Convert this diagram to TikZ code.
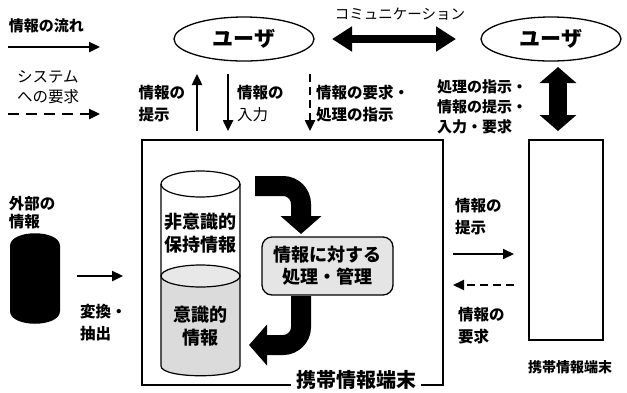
\documentclass[tikz,border=0pt]{standalone}
\usepackage{fontspec}
\newfontfamily\jp{Noto Sans CJK JP}
\usetikzlibrary{arrows.meta,shapes.geometric}
\begin{document}
\begin{tikzpicture}[x=1pt,y=-1pt,
  every node/.style={inner sep=0pt, outer sep=0pt, align=left, font=\jp\bfseries\fontsize{15.5}{22}\selectfont},
  flow/.style={line width=2.4pt, -{Triangle[length=11pt,width=10pt]}},
  req/.style={flow, dash pattern=on 8pt off 5pt},
  user/.style={draw, ellipse, line width=1.3pt, minimum width=140pt, minimum height=44pt, font=\jp\bfseries\fontsize{21}{22}\selectfont},
  bigflow/.style={line width=20pt, rounded corners=18pt, -{Triangle[length=18pt,width=40pt]}},
  dbl/.style={line width=8pt, {Triangle[length=20pt,width=24pt]}-{Triangle[length=20pt,width=24pt]}},
  vdbl/.style={line width=18pt, {Triangle[length=16pt,width=36pt]}-{Triangle[length=16pt,width=36pt]}},
  boxline/.style={draw, line width=2.2pt},
]
\useasboundingbox (0,0) rectangle (627,392);

% legend
\node[anchor=west, font=\jp\bfseries\fontsize{15}{20}\selectfont] (lf) at (9,26) {情報の流れ};
\coordinate (lfa) at (8,47);
\coordinate (lfb) at (100,47);
\draw[flow] (lfa) -- (lfb);
\node[anchor=west, font=\jp\fontsize{15.5}{20}\selectfont] (lr) at (17,87) {システム\\への要求};
\coordinate (lra) at (8,114);
\coordinate (lrb) at (100,114);
\draw[req, dash pattern=on 11pt off 7pt] (lra) -- (lrb);

% users
\node[user] (u1) at (244,39) {ユーザ};
\node[user] (u2) at (551,39) {ユーザ};
\node[font=\jp\fontsize{14.5}{16}\selectfont] (comm) at (400,14) {コミュニケーション};
\draw[dbl, shorten <=18pt, shorten >=25pt] (u1.east) -- (u2.west);

% arrows between user and terminal
\coordinate (a1t) at (197,74);
\coordinate (a1b) at (197,131);
\coordinate (a2t) at (228,74);
\coordinate (a2b) at (228,131);
\coordinate (a3t) at (310,74);
\coordinate (a3b) at (310,131);
\draw[flow] (a1b) -- (a1t);
\draw[flow] (a2t) -- (a2b);
\draw[req] (a3t) -- (a3b);
\node[anchor=east] (l1) at (185,104) {情報の\\提示};
\node[anchor=west, font=\jp\fontsize{15.5}{22}\selectfont] (l2) at (237,104) {\textbf{情報の}\\入力};
\node[anchor=west] (l3) at (316,104) {情報の要求・\\処理の指示};
\node[anchor=west, font=\jp\bfseries\fontsize{15}{20}\selectfont] (l4) at (437,107) {処理の指示・\\情報の提示・\\入力・要求};
\coordinate (v1) at (558,67);
\coordinate (v2) at (558,131);
\draw[vdbl] (v1) -- (v2);

% main terminal box
\node[boxline, minimum width=301pt, minimum height=245pt] (pda) at (292.5,262.5) {};
\node[fill=white, inner xsep=5pt, inner ysep=1pt, font=\jp\bfseries\fontsize{20}{22}\selectfont] (pdal) at (356,380) {携帯情報端末};

% right terminal
\node[boxline, minimum width=74pt, minimum height=200pt] (pda2) at (566,240) {};
\node[font=\jp\bfseries\fontsize{14}{15}\selectfont] (pda2l) at (570,367) {携帯情報端末};

\coordinate (b1a) at (453,254);
\coordinate (b1b) at (514,254);
\coordinate (b2a) at (514,285);
\coordinate (b2b) at (453,285);
\draw[flow, line width=2pt] (b1a) -- (b1b);
\draw[req, line width=2pt] (b2a) -- (b2b);
\node[anchor=west] (l5) at (455,217) {情報の\\提示};
\node[anchor=west] (l6) at (458,326) {情報の\\要求};

% external information
\node[anchor=west, font=\jp\bfseries\fontsize{15.5}{18}\selectfont] (ex) at (9,213) {外部の\\情報};
\fill[black] (10,246) .. controls (10,229) and (60,229) .. (60,246) -- (60,311)
  .. controls (60,328) and (10,328) .. (10,311) -- cycle;
\coordinate (ext) at (60,276);
\coordinate (exta) at (77,276);
\coordinate (extb) at (123,276);
\draw[flow] (exta) -- (extb);
\node[anchor=west] (cv) at (80,323) {変換・\\抽出};

% internal cylinder
\fill[gray!28] (161,276) -- (161,366) .. controls (161,379) and (240,379) .. (240,366) -- (240,276) -- cycle;
\fill[gray!18] (200.5,276) ellipse [x radius=39.5, y radius=11];
\draw[line width=1.2pt] (161,184) -- (161,366) .. controls (161,379) and (240,379) .. (240,366) -- (240,184);
\draw[line width=1.2pt] (200.5,184) ellipse [x radius=39.5, y radius=13];
\draw[line width=1.2pt] (200.5,276) ellipse [x radius=39.5, y radius=11];
\node[align=center, font=\jp\bfseries\fontsize{18}{23}\selectfont] (c1) at (200.5,233) {非意識的\\保持情報};
\node[align=center, font=\jp\bfseries\fontsize{18}{23}\selectfont] (c2) at (200.5,326) {意識的\\情報};

% processing box
\node[draw, line width=1.3pt, rounded corners=10pt, fill=gray!20, minimum width=131pt, minimum height=58pt, align=center, font=\jp\bfseries\fontsize{18}{22}\selectfont] (proc) at (327.5,266) {情報に対する\\処理・管理};

\coordinate (ta) at (255,186);
\coordinate (tb) at (301,234);
\draw[bigflow] (ta) -| (tb);
\coordinate (ba) at (301,296);
\coordinate (bb) at (249,345);
\draw[bigflow] (ba) |- (bb);
\end{tikzpicture}
\end{document}
